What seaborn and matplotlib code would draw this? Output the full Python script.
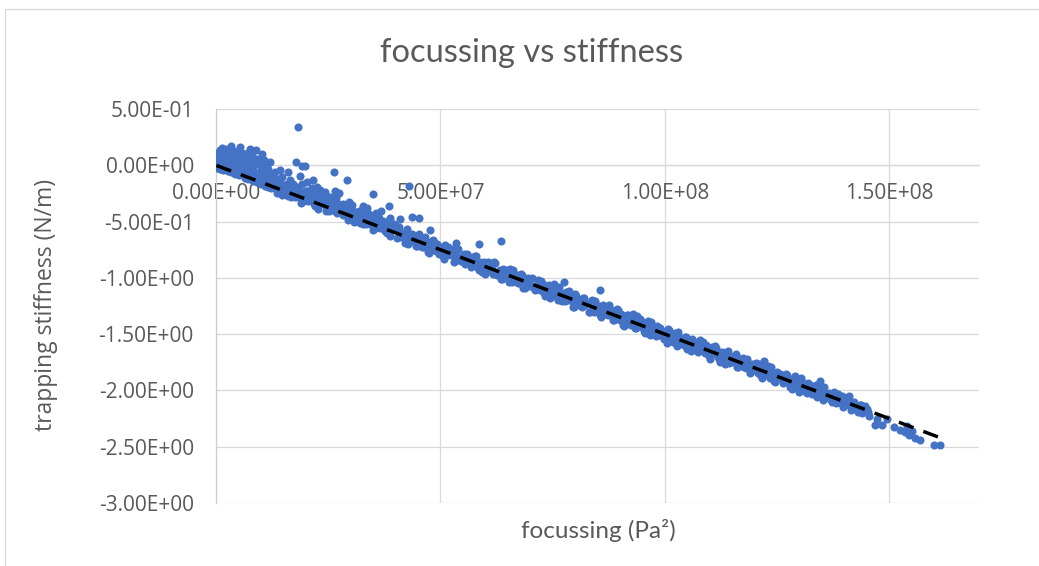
import matplotlib
matplotlib.use("Agg")
import matplotlib.pyplot as plt
from matplotlib.patches import Rectangle
import numpy as np
import pandas as pd
import seaborn as sns

# Focussing values are in units of 1e6 Pa^2, stiffness in N/m.
# Dense cloud of measurements close to the origin
cluster_x = [0.1, 0.2, 0.3, 0.4, 0.5, 0.6, 0.7, 0.8, 0.9, 0.9, 1.0, 1.1, 1.2, 1.3, 1.4, 1.5,
             1.6, 1.7, 1.8, 1.9, 2.0, 2.1, 2.2, 2.4, 2.5, 2.6, 2.7, 2.8, 2.9, 3.0, 3.1, 3.3,
             3.3, 3.4, 3.5, 3.6, 3.7, 3.9, 4.0, 4.1, 4.2, 4.3, 4.4, 4.6, 4.7, 4.9, 5.0, 5.1,
             5.2, 5.4, 5.4, 5.6, 5.7, 5.9, 6.0, 6.2, 6.3, 6.4, 6.5, 6.6, 6.8, 7.0, 7.1, 7.2,
             7.3, 7.4, 7.6, 7.6, 7.8, 8.0, 8.1, 8.2, 8.3, 8.5, 8.6, 8.8, 8.9, 9.0, 9.1, 9.2,
             9.4, 9.5, 9.7, 9.8, 10.0, 10.1, 10.2, 10.3, 10.5, 10.7, 10.8, 10.9, 11.0, 11.2, 11.3, 11.5,
             11.6, 11.7, 11.8]
cluster_y = [0.000, 0.050, -0.020, 0.090, 0.030, 0.120, -0.010, 0.070, 0.140, -0.030, 0.020, 0.100, -0.030, 0.154, 0.050, 0.080,
             -0.040, 0.000, 0.120, 0.040, 0.145, -0.020, 0.090, 0.060, 0.130, 0.010, -0.050, 0.100, -0.030, 0.070, 0.150, 0.169,
             0.030, -0.060, 0.110, -0.040, 0.080, 0.130, 0.000, 0.050, -0.080, 0.100, -0.050, 0.070, 0.120, 0.020, -0.060, -0.090,
             0.090, 0.163, 0.040, -0.030, 0.110, 0.060, -0.070, 0.080, 0.010, -0.110, 0.100, -0.050, 0.050, -0.090, 0.070, -0.120,
             0.000, 0.120, 0.145, -0.060, 0.040, -0.100, 0.080, -0.140, -0.020, 0.050, -0.110, 0.020, 0.140, -0.070, -0.150, 0.060,
             -0.120, 0.010, 0.040, -0.090, -0.040, -0.170, 0.030, -0.140, -0.010, -0.100, 0.050, -0.180, -0.060, -0.150, 0.020, -0.030,
             -0.190, -0.120, -0.080]

# Main band of measurements along the trend (first run)
band_x = [12.0, 12.5, 13.0, 13.5, 14.0, 14.5, 15.0, 15.5, 16.0, 16.5, 17.0, 17.5, 18.0, 18.5, 19.0, 19.5,
          20.0, 20.5, 21.0, 21.5, 22.0, 22.5, 23.0, 23.5, 24.0, 24.5, 25.0, 25.5, 26.0, 26.5, 27.0, 27.5,
          28.0, 28.5, 29.0, 29.5, 30.0, 30.5, 31.0, 31.5, 32.0, 32.5, 33.0, 33.5, 34.0, 34.5, 35.0, 35.5,
          36.0, 36.5, 37.0, 37.5, 38.0, 38.5, 39.0, 39.5, 40.0,
          40.5, 41.0, 41.5, 42.0, 42.5, 43.0, 43.5, 44.0, 44.5, 45.0, 45.5, 46.0, 46.5, 47.0, 47.5, 48.0,
          48.5, 49.0, 49.5, 50.0, 50.5, 51.0, 51.5, 52.0, 52.5, 53.0, 53.5, 54.0, 54.5, 55.0, 55.5, 56.0,
          56.5, 57.0, 57.5, 58.0, 58.5, 59.0, 59.5, 60.0, 60.5, 61.0, 61.5, 62.0, 62.5, 63.0, 63.5, 64.0,
          64.5, 65.0, 65.5, 66.0, 66.5, 67.0, 67.5, 68.0, 68.5, 69.0, 69.5, 70.0, 70.5, 71.0, 71.5, 72.0,
          72.5, 73.0, 73.5, 74.0, 74.5, 75.0, 75.5, 76.0, 76.5, 77.0, 77.5, 78.0, 78.5, 79.0, 79.5, 80.0,
          80.5, 81.0, 81.5, 82.0, 82.5, 83.0, 83.5, 84.0, 84.5, 85.0, 85.5, 86.0, 86.5, 87.0, 87.5, 88.0,
          88.5, 89.0, 89.5, 90.0, 90.5, 91.0, 91.5, 92.0, 92.5, 93.0, 93.5, 94.0, 94.5, 95.0, 95.5, 96.0,
          96.5, 97.0, 97.5, 98.0, 98.5, 99.0, 99.5, 100.0, 100.5, 101.0, 101.5, 102.0, 102.5, 103.0, 103.5, 104.0,
          104.5, 105.0, 105.5, 106.0, 106.5, 107.0, 107.5, 108.0, 108.5, 109.0, 109.5, 110.0, 110.5, 111.0, 111.5, 112.0,
          112.5, 113.0, 113.5, 114.0, 114.5, 115.0, 115.5, 116.0, 116.5, 117.0, 117.5, 118.0, 118.5, 119.0, 119.5, 120.0,
          120.5, 121.0, 121.5, 122.0, 122.5, 123.0, 123.5, 124.0, 124.5, 125.0, 125.5, 126.0, 126.5, 127.0, 127.5, 128.0,
          128.5, 129.0, 129.5, 130.0, 130.5, 131.0, 131.5, 132.0, 132.5, 133.0, 133.5, 134.0, 134.5, 135.0, 135.5, 136.0,
          136.6, 137.3, 137.9, 138.5, 139.2, 139.8, 140.4, 141.1, 141.8, 142.4, 143.0, 143.7, 144.3, 145.0, 145.6]
band_y = [-0.110, -0.188, -0.165, -0.243, -0.120, -0.228, -0.175, -0.213, -0.270, -0.188, -0.215, -0.283, -0.190, -0.268, -0.335, -0.243,
          -0.230, -0.318, -0.295, -0.283, -0.360, -0.258, -0.345, -0.323, -0.300, -0.408, -0.355, -0.283, -0.400, -0.358, -0.425, -0.343,
          -0.350, -0.428, -0.405, -0.483, -0.360, -0.468, -0.415, -0.453, -0.510, -0.428, -0.455, -0.523, -0.430, -0.508, -0.575, -0.483,
          -0.470, -0.558, -0.535, -0.523, -0.600, -0.498, -0.585, -0.563, -0.540,
          -0.558, -0.635, -0.613, -0.690, -0.568, -0.675, -0.623, -0.660, -0.718, -0.635, -0.663, -0.730, -0.638, -0.715, -0.783, -0.690,
          -0.678, -0.765, -0.743, -0.730, -0.808, -0.705, -0.793, -0.770, -0.748, -0.855, -0.803, -0.740, -0.848, -0.805, -0.873, -0.790,
          -0.878, -0.815, -0.873, -0.810, -0.928, -0.865, -0.893, -0.970, -0.858, -0.935, -0.893, -0.860, -0.978, -0.935, -1.013, -0.920,
          -0.948, -0.985, -0.923, -1.040, -0.998, -0.975, -1.043, -0.970, -1.088, -1.025, -1.003, -1.070, -0.998, -1.105, -1.073, -1.050,
          -1.028, -1.135, -1.083, -1.120, -1.178, -1.075, -1.123, -1.170, -1.078, -1.205, -1.163, -1.130, -1.198, -1.155, -1.263, -1.140,
          -1.218, -1.195, -1.263, -1.180, -1.228, -1.305, -1.223, -1.260, -1.208, -1.305, -1.333, -1.250, -1.278, -1.325, -1.243, -1.330,
          -1.378, -1.305, -1.283, -1.370, -1.358, -1.425, -1.333, -1.370, -1.418, -1.325, -1.443, -1.390, -1.368, -1.435, -1.493, -1.410,
          -1.448, -1.395, -1.493, -1.520, -1.458, -1.445, -1.513, -1.490, -1.578, -1.465, -1.533, -1.500, -1.578, -1.485, -1.553, -1.590,
          -1.528, -1.635, -1.573, -1.540, -1.618, -1.575, -1.663, -1.620, -1.568, -1.665, -1.623, -1.720, -1.618, -1.675, -1.623, -1.720,
          -1.678, -1.665, -1.763, -1.650, -1.738, -1.725, -1.693, -1.790, -1.728, -1.765, -1.713, -1.800, -1.778, -1.845, -1.763, -1.790,
          -1.828, -1.765, -1.873, -1.810, -1.838, -1.785, -1.893, -1.850, -1.928, -1.835, -1.893, -1.860, -1.928, -1.855, -1.913, -1.970,
          -1.908, -1.875, -1.963, -2.010, -1.928, -1.955, -2.013, -1.930, -1.998, -1.995, -1.963, -2.060, -1.998, -2.055, -1.973, -2.040,
          -2.019, -2.100, -2.059, -2.028, -2.108, -2.147, -2.086, -2.077, -2.157, -2.136, -2.195, -2.126, -2.175, -2.165, -2.224]

# Main band of measurements along the trend (second run)
band2_x = [12.25, 12.75, 13.25, 13.75, 14.25, 14.75, 15.25, 15.75, 16.25, 16.75, 17.25, 17.75, 18.25, 18.75, 19.25, 19.75,
           20.25, 20.75, 21.25, 21.75, 22.25, 22.75, 23.25, 23.75, 24.25, 24.75, 25.25, 25.75, 26.25, 26.75, 27.25, 27.75,
           28.25, 28.75, 29.25, 29.75, 30.25, 30.75, 31.25, 31.75, 32.25, 32.75, 33.25, 33.75, 34.25, 34.75, 35.25, 35.75,
           36.25, 36.75, 37.25, 37.75, 38.25, 38.75, 39.25, 39.75,
           40.25, 40.75, 41.25, 41.75, 42.25, 42.75, 43.25, 43.75, 44.25, 44.75, 45.25, 45.75, 46.25, 46.75, 47.25, 47.75,
           48.25, 48.75, 49.25, 49.75, 50.25, 50.75, 51.25, 51.75, 52.25, 52.75, 53.25, 53.75, 54.25, 54.75, 55.25, 55.75,
           56.25, 56.75, 57.25, 57.75, 58.25, 58.75, 59.25, 59.75, 60.25, 60.75, 61.25, 61.75, 62.25, 62.75, 63.25, 63.75,
           64.25, 64.75, 65.25, 65.75, 66.25, 66.75, 67.25, 67.75, 68.25, 68.75, 69.25, 69.75, 70.25, 70.75, 71.25, 71.75,
           72.25, 72.75, 73.25, 73.75, 74.25, 74.75, 75.25, 75.75, 76.25, 76.75, 77.25, 77.75, 78.25, 78.75, 79.25, 79.75,
           80.25, 80.75, 81.25, 81.75, 82.25, 82.75, 83.25, 83.75, 84.25, 84.75, 85.25, 85.75, 86.25, 86.75, 87.25, 87.75,
           88.25, 88.75, 89.25, 89.75, 90.25, 90.75, 91.25, 91.75, 92.25, 92.75, 93.25, 93.75, 94.25, 94.75, 95.25, 95.75,
           96.25, 96.75, 97.25, 97.75, 98.25, 98.75, 99.25, 99.75, 100.25, 100.75, 101.25, 101.75, 102.25, 102.75, 103.25, 103.75,
           104.25, 104.75, 105.25, 105.75, 106.25, 106.75, 107.25, 107.75, 108.25, 108.75, 109.25, 109.75, 110.25, 110.75, 111.25, 111.75,
           112.25, 112.75, 113.25, 113.75, 114.25, 114.75, 115.25, 115.75, 116.25, 116.75, 117.25, 117.75, 118.25, 118.75, 119.25, 119.75,
           120.25, 120.75, 121.25, 121.75, 122.25, 122.75, 123.25, 123.75, 124.25, 124.75, 125.25, 125.75, 126.25, 126.75, 127.25, 127.75,
           128.25, 128.75, 129.25, 129.75, 130.25, 130.75, 131.25, 131.75, 132.25, 132.75, 133.25, 133.75, 134.25, 134.75, 135.25, 135.75,
           136.9, 137.6, 138.2, 138.9, 139.5, 140.1, 140.8, 141.5, 142.1, 142.7, 143.4, 144.0, 144.7, 145.3]
band2_y = [-0.204, -0.111, -0.159, -0.196, -0.154, -0.261, -0.209, -0.166, -0.244, -0.281, -0.169, -0.236, -0.284, -0.231, -0.329, -0.276,
           -0.224, -0.311, -0.259, -0.346, -0.304, -0.391, -0.299, -0.286, -0.354, -0.331, -0.409, -0.306, -0.374, -0.411, -0.349, -0.416,
           -0.444, -0.351, -0.399, -0.436, -0.394, -0.501, -0.449, -0.406, -0.484, -0.521, -0.409, -0.476, -0.524, -0.471, -0.569, -0.516,
           -0.464, -0.551, -0.499, -0.586, -0.544, -0.631, -0.539, -0.526,
           -0.644, -0.551, -0.599, -0.636, -0.594, -0.701, -0.649, -0.606, -0.684, -0.721, -0.609, -0.676, -0.724, -0.671, -0.769, -0.716,
           -0.664, -0.751, -0.699, -0.786, -0.744, -0.831, -0.739, -0.726, -0.794, -0.771, -0.849, -0.746, -0.814, -0.851, -0.789, -0.856,
           -0.814, -0.901, -0.859, -0.806, -0.904, -0.861, -0.949, -0.856, -0.894, -0.931, -0.869, -0.966, -0.864, -0.951, -0.929, -1.006,
           -0.964, -0.931, -1.039, -0.956, -0.934, -1.021, -1.049, -1.006, -0.974, -1.091, -1.019, -1.056, -1.014, -1.091, -1.069, -1.016,
           -1.104, -1.051, -1.159, -1.096, -1.064, -1.151, -1.059, -1.146, -1.194, -1.131, -1.159, -1.206, -1.144, -1.121, -1.209, -1.256,
           -1.164, -1.201, -1.249, -1.176, -1.244, -1.221, -1.299, -1.196, -1.304, -1.271, -1.249, -1.346, -1.244, -1.291, -1.329, -1.276,
           -1.314, -1.371, -1.279, -1.366, -1.324, -1.421, -1.369, -1.326, -1.414, -1.371, -1.449, -1.336, -1.424, -1.381, -1.469, -1.436,
           -1.384, -1.511, -1.439, -1.486, -1.424, -1.511, -1.479, -1.546, -1.474, -1.451, -1.529, -1.566, -1.494, -1.601, -1.529, -1.556,
           -1.594, -1.521, -1.589, -1.646, -1.564, -1.591, -1.649, -1.556, -1.644, -1.631, -1.599, -1.696, -1.634, -1.671, -1.609, -1.706,
           -1.744, -1.661, -1.699, -1.656, -1.754, -1.711, -1.749, -1.676, -1.794, -1.721, -1.759, -1.796, -1.724, -1.791, -1.829, -1.776,
           -1.754, -1.841, -1.819, -1.886, -1.794, -1.821, -1.869, -1.796, -1.914, -1.861, -1.889, -1.856, -1.934, -1.901, -1.859, -1.936,
           -1.984, -1.891, -1.929, -1.976, -1.894, -1.971, -1.949, -2.026, -1.954, -2.031, -1.999, -1.956, -2.034, -1.981, -2.089, -2.026,
           -2.074, -2.014, -2.113, -2.074, -2.053, -2.132, -2.112, -2.173, -2.102, -2.161, -2.131, -2.200, -2.141, -2.190]

# Scattered readings above the band at low focussing
spray_x = [10.2, 12.0, 13.2, 14.3, 14.8, 16.0, 16.4, 17.8, 18.3, 18.7, 19.1, 19.2, 19.9, 20.2, 21.3, 21.6,
           22.4, 23.2, 23.8, 24.2, 26.4, 26.5, 26.8, 27.4, 28.4, 29.1, 29.7, 30.2, 32.7, 32.8, 33.6, 34.9,
           35.6, 36.8, 38.6, 38.7, 41.0, 43.0, 43.6, 45.2, 47.7, 53.5, 58.7, 63.5, 77.6, 85.6]
spray_y = [0.104, 0.030, -0.060, -0.044, -0.100, -0.059, -0.130, 0.030, 0.341, -0.098, -0.006, -0.170, -0.006, -0.148, -0.200, -0.133,
           -0.193, -0.222, -0.276, -0.240, -0.056, -0.231, -0.290, -0.243, -0.341, -0.127, -0.330, -0.356, -0.365, -0.380, -0.377, -0.255,
           -0.420, -0.406, -0.359, -0.470, -0.474, -0.184, -0.460, -0.465, -0.578, -0.691, -0.697, -0.673, -1.038, -1.112]

# Sparse readings at the high-focussing end
tail_x = [122.0, 134.5, 141.0, 146.9, 147.3, 148.4, 149.5, 151.0, 152.3, 153.6, 153.9, 154.3, 155.1, 155.8, 156.9, 160.0, 161.2]
tail_y = [-1.735, -1.913, -2.050, -2.307, -2.254, -2.307, -2.254, -2.328, -2.352, -2.373, -2.313, -2.393, -2.358, -2.423, -2.441, -2.482, -2.482]

# Linear trendline coefficients (stiffness = slope * focussing + intercept)
trend_slope = -1.5e-8
trend_intercept = 0.0

x_ticks = [0, 5e7, 1e8, 1.5e8]
y_ticks = [0.5, 0.0, -0.5, -1.0, -1.5, -2.0, -2.5, -3.0]
x_limits = (0, 1.7e8)
y_limits = (-3.0, 0.5)

TITLE = "focussing vs stiffness"
X_LABEL = "focussing (Pa²)"
Y_LABEL = "trapping stiffness (N/m)"

# ---------------------------------------------------------------------------
focus = np.concatenate([cluster_x, band_x, band2_x, spray_x, tail_x]) * 1e6
stiff = np.concatenate([cluster_y, band_y, band2_y, spray_y, tail_y])
df = pd.DataFrame({"focussing": focus, "stiffness": stiff})

trend_x = np.array([df["focussing"].min(), df["focussing"].max()])
trend = pd.DataFrame({"focussing": trend_x, "stiffness": trend_slope * trend_x + trend_intercept})

sns.set_theme(style="white")
plt.rcParams["font.family"] = ["Open Sans", "DejaVu Sans"]

TEXT = "#595959"
GRID = "#D9D9D9"
BLUE = "#4472C4"

W, H = 1039, 566
fig = plt.figure(figsize=(W / 100, H / 100), dpi=100)
fig.patch.set_facecolor("white")

# outer chart frame
fig.patches.append(Rectangle((5 / W, -0.1), 1.2, 1.1 - 9 / H, transform=fig.transFigure,
                             fill=False, edgecolor=GRID, linewidth=0.9))

ax = fig.add_axes([216 / W, 63 / H, 763 / W, 394 / H])
ax.set_facecolor("white")

sns.scatterplot(data=df, x="focussing", y="stiffness", ax=ax, color=BLUE, s=34,
                linewidth=0, alpha=1.0, zorder=3)
sns.lineplot(data=trend, x="focussing", y="stiffness", ax=ax, color="black",
             linewidth=2.5, zorder=4)
ax.lines[-1].set_dashes((4.5, 3.0))

ax.set_xlim(*x_limits)
ax.set_ylim(*y_limits)
ax.set_xticks(x_ticks)
ax.set_yticks(y_ticks)
ax.set_xticklabels([f"{v:.2E}" for v in x_ticks])
ax.set_yticklabels([f"{v:.2E}" for v in y_ticks])
ax.set_xlabel("")
ax.set_ylabel("")

ax.grid(True, color=GRID, linewidth=0.9, zorder=0)
ax.set_axisbelow(True)
for side in ("top", "right"):
    ax.spines[side].set_visible(False)
ax.spines["left"].set_color("#CFCFCF")
ax.spines["left"].set_linewidth(0.9)
ax.spines["bottom"].set_position(("data", 0))
ax.spines["bottom"].set_color(GRID)
ax.spines["bottom"].set_linewidth(0.9)

ax.tick_params(axis="y", length=0, pad=16, labelsize=15, labelcolor=TEXT)
ax.tick_params(axis="x", length=0, pad=13, labelsize=15, labelcolor=TEXT)

fig.text(532 / W, 1 - 53 / H, TITLE, ha="center", va="center", fontsize=23.5,
         color=TEXT, family=["Lato", "DejaVu Sans"])
fig.text(598 / W, 1 - 531 / H, X_LABEL, ha="center", va="center", fontsize=17.5,
         color=TEXT, family=["Lato", "DejaVu Sans"])
fig.text(46 / W, 1 - 305 / H, Y_LABEL, ha="center", va="center", rotation=90,
         fontsize=16.5, color=TEXT)

fig.savefig("out.png", dpi=100, facecolor="white")
